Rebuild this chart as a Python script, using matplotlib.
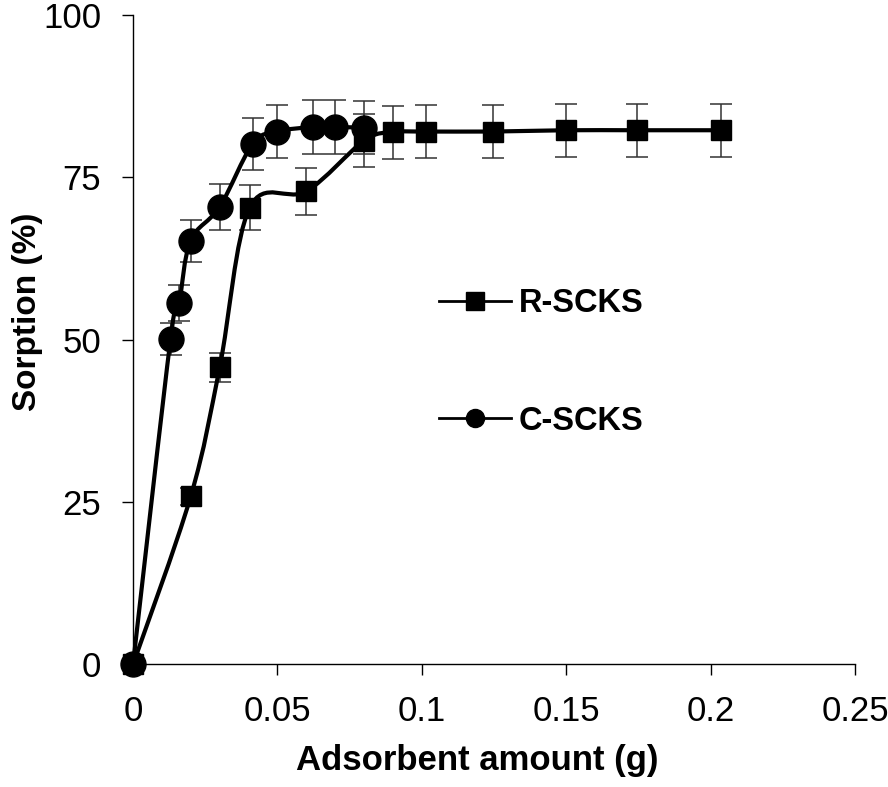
import numpy as np
import matplotlib
matplotlib.use("Agg")
import matplotlib.pyplot as plt
from matplotlib.path import Path
from matplotlib.patches import PathPatch
from matplotlib.lines import Line2D

plt.rcParams['font.family'] = ['Liberation Sans', 'DejaVu Sans']

# --- data ---
r_x = [0, 0.02, 0.03, 0.0404, 0.06, 0.08, 0.09, 0.1015, 0.1245, 0.15, 0.1745, 0.2034]
r_y = [0, 25.9, 45.7, 70.3, 72.8, 80.6, 81.9, 82.0, 82.0, 82.2, 82.2, 82.2]
c_x = [0, 0.013, 0.016, 0.0199, 0.030, 0.0414, 0.0499, 0.0623, 0.0698, 0.080]
c_y = [0, 50.1, 55.6, 65.2, 70.4, 80.1, 82.0, 82.7, 82.7, 82.6]
err_frac = 0.05  # error bars are ~5 % of the value

x_ticks = [0, 0.05, 0.1, 0.15, 0.2, 0.25]
x_tick_labels = ['0', '0.05', '0.1', '0.15', '0.2', '0.25']
y_ticks = [0, 25, 50, 75, 100]


def smooth_path(x, y):
    # excel-like smoothed line: bezier segments with catmull-rom control points
    p = np.column_stack([x, y]).astype(float)
    n = len(p)
    verts = [p[0]]
    codes = [Path.MOVETO]
    for i in range(n - 1):
        p0 = p[i - 1] if i > 0 else p[i]
        p1, p2 = p[i], p[i + 1]
        p3 = p[i + 2] if i + 2 < n else p[i + 1]
        verts += [p1 + (p2 - p0) / 6, p2 - (p3 - p1) / 6, p2]
        codes += [Path.CURVE4] * 3
    return Path(verts, codes)


fig = plt.figure(figsize=(8.88, 7.87), dpi=100)
ax = fig.add_axes([0.1498, 0.1557, 0.8132, 0.8258])

for xs, ys, mk, ms in [(c_x, c_y, 'o', 18), (r_x, r_y, 's', 15)]:
    ys = np.array(ys)
    ax.add_patch(PathPatch(smooth_path(xs, ys), fill=False, lw=3, ec='black',
                           zorder=3, clip_on=False, capstyle='round'))
    ax.errorbar(xs, ys, yerr=ys * err_frac, fmt='none', ecolor='#333333',
                elinewidth=1.1, capsize=8, capthick=1.1, zorder=2)
    ax.plot(xs, ys, ls='none', marker=mk, ms=ms, color='black', zorder=4,
            clip_on=False)

ax.set_xlim(0, 0.25)
ax.set_ylim(0, 100)
ax.set_xticks(x_ticks)
ax.set_xticklabels(x_tick_labels)
ax.set_yticks(y_ticks)
for s in ['top', 'right']:
    ax.spines[s].set_visible(False)
for s in ['left', 'bottom']:
    ax.spines[s].set_linewidth(1.0)
ax.tick_params(direction='out', length=8, width=1.0, labelsize=25)
ax.tick_params(axis='x', pad=14)
ax.tick_params(axis='y', pad=15)

ax.set_xlabel('Adsorbent amount (g)', fontsize=25, fontweight='bold')
ax.set_ylabel('Sorption (%)', fontsize=24, fontweight='bold')
ax.xaxis.set_label_coords(0.477, -0.122)
ax.yaxis.set_label_coords(-0.124, 0.542)

handles = [Line2D([], [], color='black', lw=2, marker='s', ms=13),
           Line2D([], [], color='black', lw=2, marker='o', ms=13)]
leg = ax.legend(handles, ['R-SCKS', 'C-SCKS'], frameon=False,
                loc='upper left', bbox_to_anchor=(0.383, 0.624),
                prop={'size': 23.5, 'weight': 'bold'},
                handlelength=2.2, handletextpad=0.25, labelspacing=2.65)

fig.savefig('out.png', dpi=100)
